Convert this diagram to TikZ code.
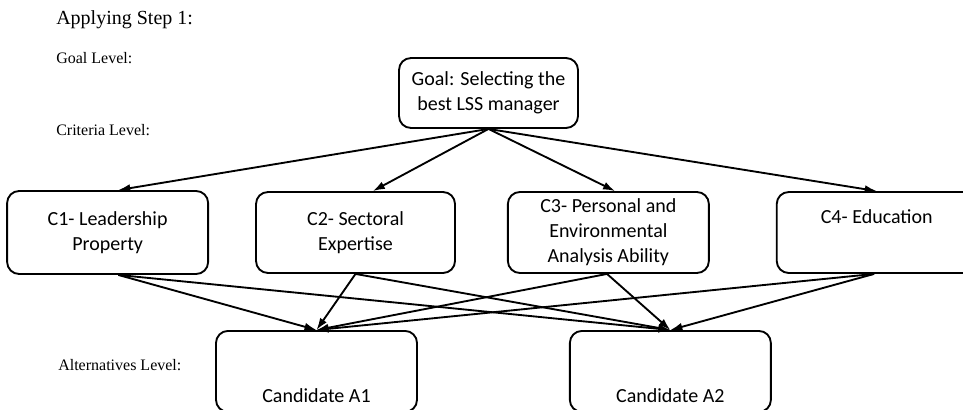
\documentclass[tikz,border=0pt]{standalone}
\usepackage{fontspec}
\setmainfont{Liberation Serif}
\newfontfamily\boxfont{Carlito}
\usetikzlibrary{arrows.meta, positioning}

\begin{document}
\begin{tikzpicture}[
    x=0.75pt, y=-0.75pt,
    node distance=34.5pt,
    crit/.style={
      rounded corners=9pt,
      draw=black,
      align=center,
      font=\boxfont\fontsize{15}{18.75}\selectfont,
      line width=1.4pt,
      minimum width=150.75pt,
      minimum height=60.75pt,
      inner sep=2pt,
    },
    alt/.style={crit, inner ysep=0pt, text height=52.5pt, text depth=6pt},
    arr/.style={-{Latex[length=9pt, width=6pt]}, line width=1.4pt},
    lvl/.style={anchor=west, inner sep=0pt, font=\fontsize{12}{14}\selectfont},
  ]
    \useasboundingbox (0,0) rectangle (963,410);
    \clip (0,0) rectangle (963,410);

    % titles
    \node[lvl, font=\fontsize{15}{18}\selectfont] (step) at (56,20) {Applying Step 1:};
    \node[lvl] (goallvl) at (56,58) {Goal Level:};
    \node[lvl] (critlvl) at (56,130) {Criteria Level:};
    \node[lvl] (altlvl) at (58,365) {Alternatives Level:};

    % goal
    \node[crit, minimum width=134.25pt, minimum height=52.5pt] (goal) at (488.5,93) {Goal: Selecting the\\best LSS manager};

    % criteria
    \node[crit, minimum width=149.25pt] (c2) at (355.5,232.5) {C2- Sectoral\\Expertise};
    \node[crit, left=of c2, minimum height=62.25pt] (c1) {C1- Leadership\\Property};
    \node[crit, right=38.25pt of c2] (c3) {C3- Personal and\\Environmental\\Analysis Ability};
    \node[crit, right=49.5pt of c3, minimum width=150pt, minimum height=0pt, inner ysep=0pt,
          text height=23.25pt, text depth=37.5pt] (c4) {C4- Education};

    % alternatives
    \node[alt, anchor=north] (a1) at (316.5,330) {Candidate A1};
    \node[alt, right=113.25pt of a1] (a2) {Candidate A2};

    % goal -> criteria
    \draw[arr] (goal.south) -- ([xshift=8pt]c1.north);
    \draw[arr] (goal.south) -- ([xshift=13pt]c2.north);
    \draw[arr] (goal.south) -- ([xshift=5pt]c3.north);
    \draw[arr] (goal.south) -- (c4.north);

    % criteria -> alternatives
    \foreach \c/\dx in {c1/8pt, c2/0pt, c3/-1pt, c4/-2pt}
      \foreach \a in {a1, a2}
        \draw[arr] ([xshift=\dx]\c.south) -- (\a.north);
  \end{tikzpicture}
\end{document}
